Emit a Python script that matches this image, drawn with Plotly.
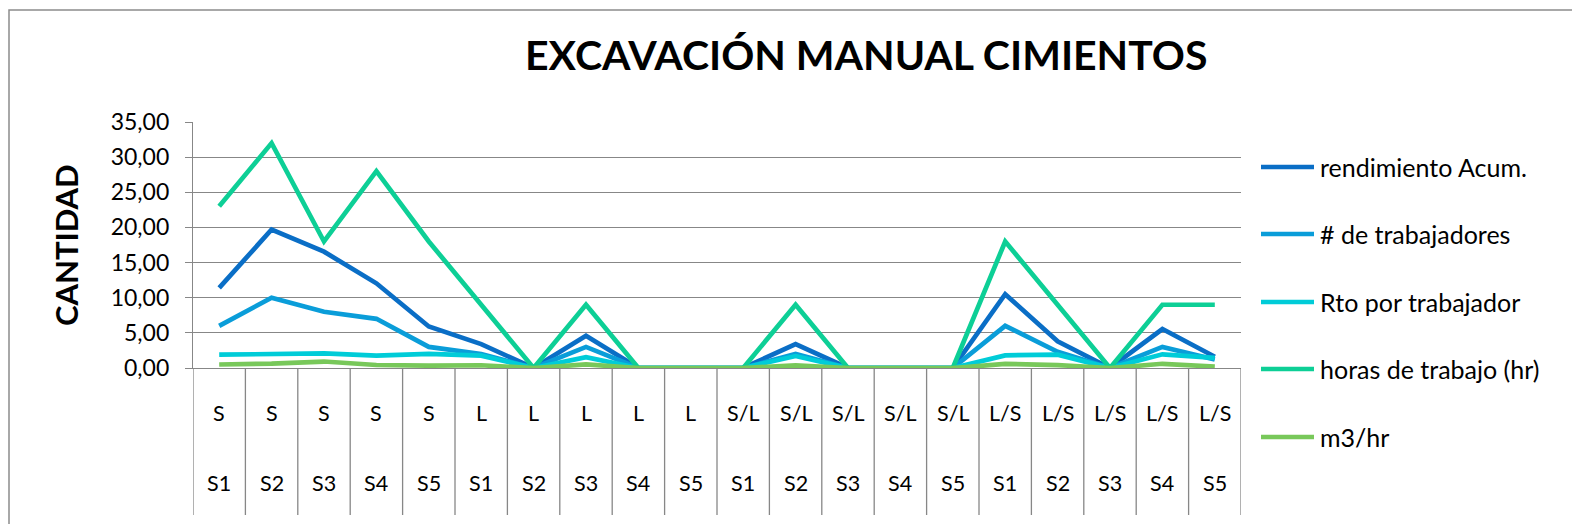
import plotly.graph_objects as go

# ---- data ----
cat_top = ["S"] * 5 + ["L"] * 5 + ["S/L"] * 5 + ["L/S"] * 5
cat_bottom = ["S1", "S2", "S3", "S4", "S5"] * 4

rendimiento = [11.4, 19.7, 16.55, 12.05, 5.9, 3.4, 0, 4.6, 0, 0, 0, 3.4, 0, 0, 0, 10.5, 3.8, 0, 5.55, 1.6]
trabajadores = [6, 10, 8, 7, 3, 2, 0, 3, 0, 0, 0, 2, 0, 0, 0, 6, 2.3, 0, 3, 1.2]
rto_trab = [1.9, 1.97, 2.07, 1.75, 2.0, 1.75, 0, 1.53, 0, 0, 0, 1.7, 0, 0, 0, 1.8, 1.9, 0, 1.95, 1.45]
horas = [23, 32, 18, 28, 18, 9, 0, 9, 0, 0, 0, 9, 0, 0, 0, 18, 9, 0, 9, 9]
m3_hr = [0.5, 0.62, 0.92, 0.43, 0.33, 0.39, 0, 0.51, 0, 0, 0, 0.38, 0, 0, 0, 0.58, 0.42, 0, 0.6, 0.2]

series_names = ["rendimiento Acum.", "# de trabajadores", "Rto por trabajador",
                "horas de trabajo (hr)", "m3/hr"]
series_values = [rendimiento, trabajadores, rto_trab, horas, m3_hr]
series_colors = ["#0A6EC6", "#0A9DD9", "#00CCD8", "#0DCF96", "#78C85A"]

y_ticks = [0, 5, 10, 15, 20, 25, 30, 35]

# ---- geometry (pixels) ----
W, H = 1572, 524
L, R, T, B = 193, 1241, 122, 368
pw, ph = R - L, B - T

def px_x(px):
    return (px - L) / pw

def px_y(py):
    return (B - py) / ph

FONT = "Lato, 'Open Sans', sans-serif"
GRID = "#878787"

x_idx = list(range(len(cat_top)))

fig = go.Figure()
for i, (name, vals, col) in enumerate(zip(series_names, series_values, series_colors)):
    fig.add_trace(go.Scatter(
        x=x_idx, y=vals, name=name, mode="lines",
        line=dict(color=col, width=4.7),
        showlegend=False,
    ))

shapes = []
# category separators (table under the axis)
for i in range(len(cat_top) + 1):
    shapes.append(dict(type="line", xref="x", yref="paper",
                       x0=i - 0.5, x1=i - 0.5, y0=0, y1=px_y(515),
                       line=dict(color=GRID, width=1.3)))
# outer chart border (extends past the picture)
shapes.append(dict(type="rect", xref="paper", yref="paper",
                   x0=px_x(9), x1=px_x(1600), y0=px_y(10), y1=px_y(600),
                   line=dict(color="#8C8C8C", width=1.5), fillcolor="rgba(0,0,0,0)"))

annotations = []
for i in x_idx:
    annotations.append(dict(x=i, y=px_y(413), xref="x", yref="paper",
                            xanchor="center", yanchor="middle",
                            text=cat_top[i], showarrow=False,
                            font=dict(family=FONT, size=21.5, color="#000")))
    annotations.append(dict(x=i, y=px_y(483), xref="x", yref="paper",
                            xanchor="center", yanchor="middle",
                            text=cat_bottom[i], showarrow=False,
                            font=dict(family=FONT, size=21.5, color="#000")))
annotations.append(dict(x=px_x(66), y=px_y(245), xref="paper", yref="paper",
                        xanchor="center", yanchor="middle",
                        text="<b>CANTIDAD</b>", textangle=-90, showarrow=False,
                        font=dict(family=FONT, size=31, color="#000")))
annotations.append(dict(x=px_x(866), y=px_y(55), xref="paper", yref="paper",
                        xanchor="center", yanchor="middle",
                        text="<b>EXCAVACIÓN MANUAL CIMIENTOS</b>", showarrow=False,
                        font=dict(family=FONT, size=41, color="#000")))

# legend (drawn as line samples + labels to keep Excel-like spacing)
legend_rows = [167, 234, 302, 369, 437]
for name, col, py in zip(series_names, series_colors, legend_rows):
    shapes.append(dict(type="line", xref="paper", yref="paper",
                       x0=px_x(1261), x1=px_x(1314), y0=px_y(py), y1=px_y(py),
                       line=dict(color=col, width=4.7)))
    annotations.append(dict(x=px_x(1318), y=px_y(py), xref="paper", yref="paper",
                            xanchor="left", yanchor="middle", text=name,
                            showarrow=False,
                            font=dict(family=FONT, size=25, color="#000")))

fig.update_layout(
    width=W, height=H, autosize=False,
    margin=dict(l=L, r=W - R, t=T, b=H - B, pad=0),
    paper_bgcolor="white", plot_bgcolor="white",
    separators=",.",
    font=dict(family=FONT, size=21, color="#000"),
    showlegend=False,
    xaxis=dict(range=[-0.5, len(cat_top) - 0.5], showticklabels=False,
               showgrid=False, zeroline=False, showline=True,
               linecolor=GRID, linewidth=1.3, ticks=""),
    yaxis=dict(range=[0, 35], tickvals=y_ticks, tickformat=".2f",
               showgrid=True, gridcolor=GRID, gridwidth=1.3,
               zeroline=False, showline=True, linecolor=GRID, linewidth=1.3,
               ticks="outside", ticklen=7, tickcolor=GRID, tickwidth=1.3,
               ticklabelstandoff=11,
               tickfont=dict(family=FONT, size=23, color="#000")),
    shapes=shapes, annotations=annotations,
)

fig.write_html("out.html", post_script="document.body.style.margin='0';",
               config={"displayModeBar": False})
